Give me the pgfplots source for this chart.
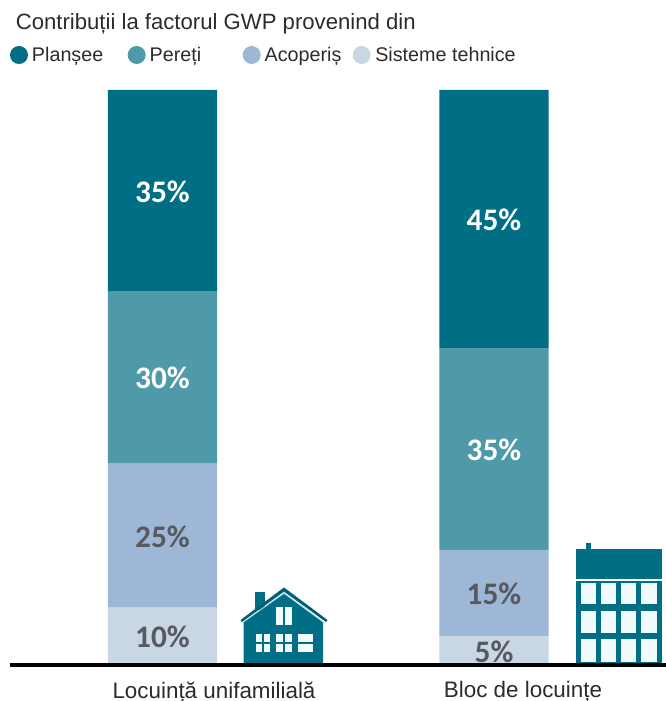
\documentclass[border=0pt]{standalone}
\usepackage{pgfplots}
\usepackage{pgfplotstable}
\usepackage{fontspec}
\setmainfont{Liberation Sans}
\newfontfamily\valuefont{Carlito}
\pgfplotsset{compat=1.18}

\definecolor{planseu}{HTML}{006F85}
\definecolor{pereti}{HTML}{4F9AA8}
\definecolor{acoperis}{HTML}{9EB7D6}
\definecolor{sisteme}{HTML}{C9D6E4}
\definecolor{valoare}{HTML}{56595F}
\definecolor{text}{HTML}{2B2B2B}
\definecolor{geam}{HTML}{F1FAFC}
\definecolor{contur}{HTML}{B5DDE5}

% Contributions in percent: column 0 is the single-family house, column 1 the apartment block
\pgfplotstableread{
x v
0 10
1 5
}\sisteme
\pgfplotstableread{
x v
0 25
1 15
}\acoperis
\pgfplotstableread{
x v
0 30
1 35
}\pereti
\pgfplotstableread{
x v
0 35
1 45
}\planseu

\newcommand{\legcell}[2]{\makebox[#1][l]{#2}}

\begin{document}
\begin{tikzpicture}
% page frame: 1 px = 0.75 pt
\path[use as bounding box] (0,0) rectangle (499.5pt,525.75pt);

% building pictograms, coordinates in pixels from the top left corner
\begin{scope}[x=0.75pt,y=-0.75pt,yshift=525.75pt]
  % house
  \fill[planseu] (255,610) rectangle (265,592);
  \fill[contur] (242,623) -- (284,592) -- (325,623) -- cycle;
  \fill[planseu!85!black] (240.5,620) -- (284,587.5) -- (327.5,620) -- (326,622) -- (284,591.5) -- (242,622) -- cycle;
  \fill[planseu] (243.5,665) -- (243.5,622.5) -- (284,594) -- (323,622.5) -- (323,665) -- cycle;
  \foreach \xa/\xb/\ya/\yb in {276/292/607/625, 255.7/270/634/652, 276/292/634/652, 298/312.7/634/652}
    \fill[geam] (\xa,\ya) rectangle (\xb,\yb);
  \fill[planseu] (283.2,607) rectangle (284.8,625);
  \fill[planseu] (262,634) rectangle (263.6,652);
  \fill[planseu] (283.2,634) rectangle (284.8,652);
  \fill[planseu] (255.7,642.2) rectangle (270,643.8);
  \fill[planseu] (276,642.2) rectangle (292,643.8);
  \fill[planseu] (298,642.2) rectangle (312.7,643.8);
  % apartment block
  \fill[planseu] (586,543) rectangle (590.7,550);
  \fill[planseu] (576,549.3) rectangle (661.7,579.3);
  \fill[planseu] (576,581.3) rectangle (661.7,665);
  \foreach \xa/\xb in {580.7/596, 600.7/616, 620.7/636, 640.7/657.3}
    \foreach \ya/\yb in {583.3/604, 611/632.7, 639.3/661.7}
      \fill[geam] (\xa,\ya) rectangle (\xb,\yb);
\end{scope}

\begin{axis}[
  at={(7.5pt,27pt)}, anchor=south west,
  scale only axis, width=492pt, height=431.25pt,
  clip=false,
  axis on top,
  ybar stacked, bar shift=0pt, bar width=82pt,
  xmin=-0.46003, xmax=1.51885, ymin=0, ymax=100,
  axis y line=none,
  axis x line=bottom,
  axis line style={-, black, line width=2.6pt},
  xtick={0.1554,1.0875},
  xticklabels={{\fontsize{16.8pt}{18pt}\selectfont Locuință unifamilială},{\fontsize{16.8pt}{18pt}\selectfont Bloc de locuințe}},
  major tick length=0pt,
  xticklabel style={text=text, anchor=north, yshift=-9pt},
  /pgf/number format/assume math mode=true,
  title={\fontsize{16.6pt}{18pt}\selectfont Contribuții la factorul GWP provenind din},
  title style={at={(axis description cs:0.0085,1.1165)}, anchor=west, text=text, inner sep=0pt, yshift=-6.75pt},
  legend columns=4,
  reverse legend,
  legend style={
    draw=none, fill=none,
    at={(axis description cs:0,1.0609)}, anchor=west,
    inner sep=0pt, outer sep=0pt,
    font=\fontsize{14.8pt}{16pt}\selectfont,
    text=text,
    nodes={inner sep=0pt, outer sep=0pt},
    /tikz/column sep=3pt,
  },
  legend cell align=left,
  legend image code/.code={\fill[#1] (0pt,0pt) circle (6.75pt);},
  point meta=\thisrow{v},
  nodes near coords={\valuefont\bfseries\fontsize{23.5pt}{26pt}\selectfont\pgfmathprintnumber{\pgfplotspointmeta}\%},
  nodes near coords style={anchor=center, yshift=-0.6pt},
]
\addplot[fill=sisteme, draw=none, nodes near coords style={text=valoare}] table[x=x,y=v] {\sisteme};
\addlegendentry{\legcell{0pt}{Sisteme tehnice}}
\addplot[fill=acoperis, draw=none, nodes near coords style={text=valoare}] table[x=x,y=v] {\acoperis};
\addlegendentry{\legcell{63pt}{Acoperiș}}
\addplot[fill=pereti, draw=none, nodes near coords style={text=white}] table[x=x,y=v] {\pereti};
\addlegendentry{\legcell{66.75pt}{Pereți}}
\addplot[fill=planseu, draw=none, nodes near coords style={text=white}] table[x=x,y=v] {\planseu};
\addlegendentry{\legcell{68.75pt}{Planșee}}
\end{axis}
\end{tikzpicture}
\end{document}
